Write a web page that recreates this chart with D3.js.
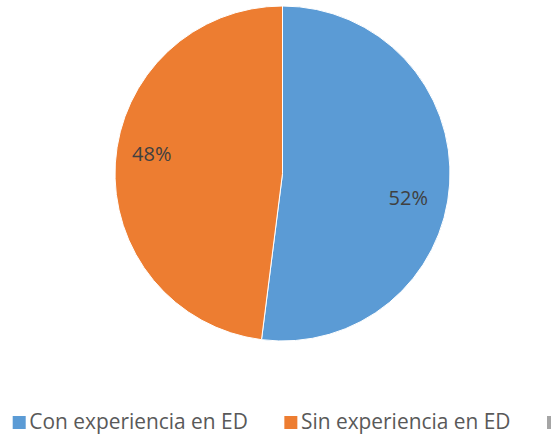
<!DOCTYPE html>
<html><head><meta charset="utf-8">
<script src="https://cdn.jsdelivr.net/npm/d3@7"></script>
<style>body{margin:0;background:#fff}svg{display:block}</style>
</head><body>
<svg id="c" width="551" height="435"></svg>
<script>
const categories = ["Con experiencia en ED", "Sin experiencia en ED", ""];
const values = [52, 48, 0];
const colors = ["#5B9BD5", "#ED7D31", "#A5A5A5"];

const svg = d3.select("#c");
const cx = 282.5, cy = 173.5, r = 167.5;
const g = svg.append("g").attr("transform", `translate(${cx},${cy})`);
const data = categories.map((c, i) => ({name: c, value: values[i], color: colors[i]}));
const pie = d3.pie().value(d => d.value).sort(null);
const arcs = pie(data);
const arc = d3.arc().innerRadius(0).outerRadius(r);
g.selectAll("path").data(arcs.filter(a => a.data.value > 0)).join("path")
  .attr("d", arc).attr("fill", d => d.data.color)
  .attr("stroke", "#fff").attr("stroke-width", 1);

const labelArc = d3.arc().innerRadius(128).outerRadius(128);
const dxOff = [-2, -3], dyOff = [16, -12];
g.selectAll("text.lbl").data(arcs.filter(a => a.data.value > 0)).join("text")
  .attr("class", "lbl")
  .attr("x", (d, i) => labelArc.centroid(d)[0] + dxOff[i])
  .attr("y", (d, i) => labelArc.centroid(d)[1] + dyOff[i])
  .attr("text-anchor", "middle").attr("dominant-baseline", "central")
  .attr("font-family", "'Open Sans', sans-serif").attr("font-size", 20)
  .attr("fill", "#404040")
  .text(d => d3.format(".0%")(d.data.value / d3.sum(values)));

const leg = svg.append("g").attr("transform", "translate(12.7,0)");
let x = 0;
data.forEach(d => {
  const it = leg.append("g").attr("transform", `translate(${x},0)`);
  it.append("rect").attr("x", 0).attr("y", 416).attr("width", 13).attr("height", 13).attr("fill", d.color);
  if (d.name) {
    const t = it.append("text").attr("x", 16.6).attr("y", 429)
      .attr("font-family", "'Open Sans', sans-serif").attr("font-size", 20.9)
      .attr("fill", "#595959").text(d.name);
    x += 16.6 + t.node().getComputedTextLength() + 36.5;
  }
});
</script>
</body></html>
